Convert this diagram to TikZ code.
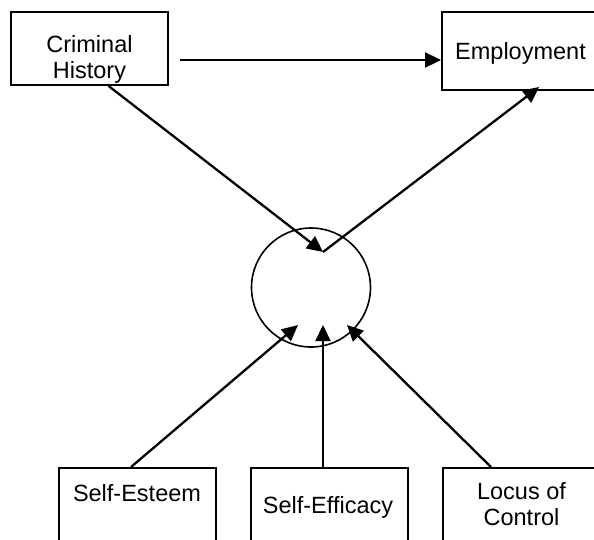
\documentclass[tikz,border=0pt]{standalone}
\usepackage{fontspec}
\setmainfont{Liberation Sans}
\usetikzlibrary{arrows.meta}
\begin{document}
\begin{tikzpicture}[x=1pt,y=-1pt,
  box/.style={draw,line width=2pt,rectangle,inner sep=0pt,minimum width=157pt},
  lbl/.style={font=\fontsize{23.5}{26}\selectfont,inner sep=0pt,anchor=base},
  arr/.style={line width=2.3pt,-{Triangle[length=16pt,width=15pt]}}]
\useasboundingbox (0,0) rectangle (594,539);
\clip (0,0) rectangle (594,539);
% boxes
\node[box,minimum height=73pt] (crim) at (89.5,48.5) {};
\node[box,minimum height=78pt] (emp) at (520.5,51) {};
\node[box,minimum height=100pt] (se) at (137.5,518) {};
\node[box,minimum height=100pt] (sf) at (329,518) {};
\node[box,minimum height=100pt] (lc) at (521.5,518) {};
\node[draw,circle,line width=1.6pt,minimum size=119pt,inner sep=0pt] (med) at (311,287.5) {};
% labels
\node[lbl] (crimA) at (89.5,52) {Criminal};
\node[lbl] (crimB) at (89.5,78) {History};
\node[lbl] (empA) at (520.5,59) {Employment};
\node[lbl] (seA) at (137,501) {Self-Esteem};
\node[lbl] (sfA) at (328,513) {Self-Efficacy};
\node[lbl] (lcA) at (521.5,499) {Locus of};
\node[lbl] (lcB) at (521.5,525) {Control};
% arrow points inside the circle
\coordinate (h1) at (180,60);
\coordinate (m1) at (323,252);
\coordinate (t1) at (298,325);
\coordinate (t2) at (323,325);
\coordinate (t3) at (347,325);
% connectors
\draw[arr] (h1) -- (h1 -| emp.west);
\draw[arr] (crim.-63) -- (m1);
\draw[arr] (m1) -- ([yshift=4pt]emp.-65);
\draw[arr] ([xshift=-6.5pt]se.north) -- (t1);
\draw[arr] ([xshift=-6pt]sf.north) -- (t2);
\draw[arr] ([xshift=-30.5pt]lc.north) -- (t3);
\end{tikzpicture}
\end{document}
